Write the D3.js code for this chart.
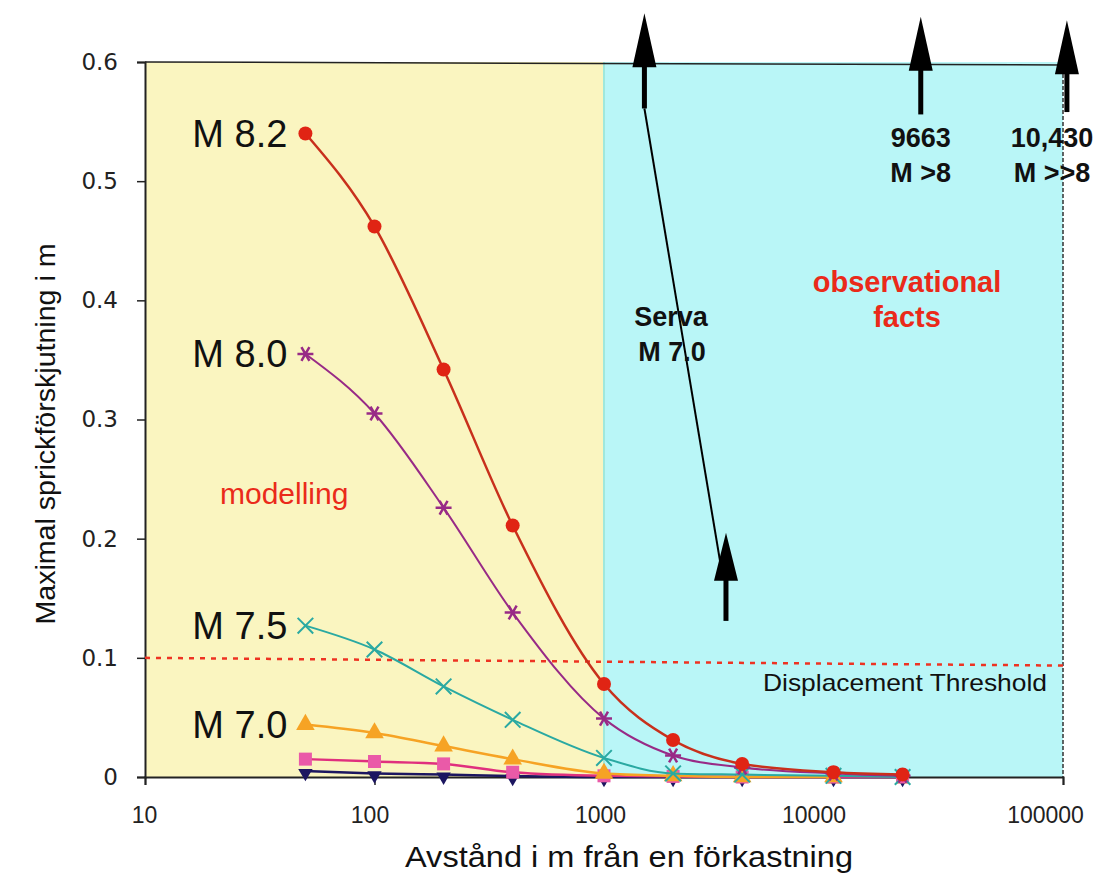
<!DOCTYPE html>
<html>
<head>
<meta charset="utf-8">
<script src="https://cdn.jsdelivr.net/npm/d3@7"></script>
<style>
  body { margin: 0; background: #fff; }
  svg { display: block; }
  text { font-family: "Liberation Sans", Arial, Helvetica, sans-serif; }
</style>
</head>
<body>
<svg width="1100" height="874"></svg>
<script>
// distances in m, displacement in m
let distances = [50, 100, 200, 400, 1000, 2000, 4000, 10000, 20000];

let m82 = [0.54, 0.462, 0.342, 0.211, 0.078, 0.031, 0.011, 0.004, 0.002];
let m80 = [0.355, 0.305, 0.226, 0.138, 0.049, 0.018, 0.008, 0.003, 0.001];
let m75 = [0.127, 0.107, 0.076, 0.048, 0.016, 0.003, 0.002, 0.001, 0];
let m70 = [0.044, 0.037, 0.026, 0.015, 0.003, 0.001, 0, 0, null];
let pinkVals = [0.015, 0.013, 0.011, 0.004, 0.001, 0.0005, 0, 0, 0];
let navyVals = [0.005, 0.003, 0.002, 0.0008, 0, 0, 0, 0, 0];
let yellowVals = [null, null, null, null, null, null, null, 0, 0];

let yTicks = [0, 0.1, 0.2, 0.3, 0.4, 0.5, 0.6];
let xTicks = [10, 100, 1000, 10000, 100000];

let threshold = [0.1, 0.0935];   // at x=10 and x=100000

// annotation arrows: x position, tip value, stem end value
let topArrows = [
  {x: 1500, tip: 0.641, end: 0.561},
  {x: 24000, tip: 0.638, end: 0.556},
  {x: 104000, tip: 0.635, end: 0.558}
];
let servaArrow = {x: 3400, tip: 0.205, end: 0.131};

/***************************/

let svg = d3.select("svg");

let x = d3.scaleLog().domain([10, 100000]).range([145, 1063]);
let y = d3.scaleLinear().domain([0, 0.6]).range([777, 62]);

// background regions
svg.append("rect")
  .attr("x", x(10)).attr("y", y(0.6))
  .attr("width", x(1000) - x(10)).attr("height", y(0) - y(0.6))
  .attr("fill", "#faf5c0");
svg.append("rect")
  .attr("x", x(1000)).attr("y", y(0.6))
  .attr("width", x(100000) - x(1000)).attr("height", y(0) - y(0.6))
  .attr("fill", "#b9f6f7");
svg.append("line")
  .attr("x1", x(1000)).attr("x2", x(1000))
  .attr("y1", y(0.6)).attr("y2", y(0))
  .attr("stroke", "#9fe8dc").attr("stroke-width", 2);

// borders
svg.append("line")
  .attr("x1", x(10)).attr("x2", x(100000))
  .attr("y1", y(0.6)).attr("y2", y(0.6) + 3)
  .attr("stroke", "#222").attr("stroke-width", 1.5);
svg.append("line")
  .attr("x1", x(100000)).attr("x2", x(100000))
  .attr("y1", y(0.6)).attr("y2", y(0))
  .attr("stroke", "#333").attr("stroke-width", 1.5)
  .attr("stroke-dasharray", "4,2");

// axes
let yAxis = d3.axisLeft(y).tickValues(yTicks).tickSize(8).tickPadding(19)
  .tickFormat(d => d === 0 ? "0" : d3.format(".1f")(d));
let gy = svg.append("g").attr("transform", `translate(${x(10)},0)`).call(yAxis);
gy.selectAll("text")
  .style("font-family", "'DejaVu Sans', sans-serif")
  .style("font-size", "23px").attr("fill", "#222");

// labels in the source sit a little left of the ticks at the right end
let xLabelShift = {10: -1, 100: -5, 1000: -4, 10000: -20, 100000: -18};
let xAxis = d3.axisBottom(x).tickValues(xTicks).tickSize(8).tickPadding(22)
  .tickFormat(d3.format("d"));
let gx = svg.append("g").attr("transform", `translate(0,${y(0)})`).call(xAxis);
gx.selectAll("text")
  .style("font-size", "23px").attr("fill", "#222")
  .attr("dx", d => xLabelShift[d]);

svg.selectAll(".domain").attr("stroke", "#222").attr("stroke-width", 2);
svg.selectAll(".tick line").attr("stroke", "#222").attr("stroke-width", 1.5);

// threshold line
svg.append("line")
  .attr("x1", x(10)).attr("x2", x(100000))
  .attr("y1", y(threshold[0])).attr("y2", y(threshold[1]))
  .attr("stroke", "#ee3322").attr("stroke-width", 2.5)
  .attr("stroke-dasharray", "5,6");

svg.append("text")
  .attr("x", 1047).attr("y", 691)
  .attr("text-anchor", "end")
  .style("font-size", "24px")
  .attr("fill", "#111")
  .attr("textLength", 284)
  .attr("lengthAdjust", "spacingAndGlyphs")
  .text("Displacement  Threshold");

// series
let line = d3.line()
  .defined(d => d.v !== null)
  .x(d => x(d.d))
  .y(d => y(d.v))
  .curve(d3.curveMonotoneX);

let series = [
  {name: "yellow", vals: yellowVals, color: "#f2ea10", stroke: "#f2ea10", sym: "square", w: 2},
  {name: "navy", vals: navyVals, color: "#1c1660", stroke: "#1c1660", sym: "down", w: 2.5},
  {name: "pink", vals: pinkVals, color: "#ea5aa8", stroke: "#e0307e", sym: "square", w: 2.5},
  {name: "M 7.0", vals: m70, color: "#f6a324", stroke: "#f6a324", sym: "triangle", w: 2.5},
  {name: "M 7.5", vals: m75, color: "#2aa9a2", stroke: "#2aa9a2", sym: "times", w: 2},
  {name: "M 8.0", vals: m80, color: "#982a86", stroke: "#982a86", sym: "asterisk", w: 2},
  {name: "M 8.2", vals: m82, color: "#e02414", stroke: "#c8301c", sym: "circle", w: 2.5}
];

series.forEach(s => {
  let pts = distances.map((d, i) => ({d: d, v: s.vals[i]}));
  svg.append("path")
    .datum(pts)
    .attr("fill", "none")
    .attr("stroke", s.stroke)
    .attr("stroke-width", s.w)
    .attr("d", line);

  let g = svg.append("g");
  pts.filter(p => p.v !== null).forEach(p => {
    let px = x(p.d), py = y(p.v);
    if (s.sym === "circle") {
      g.append("circle").attr("cx", px).attr("cy", py).attr("r", 7).attr("fill", s.color);
    } else if (s.sym === "triangle") {
      g.append("path").attr("d", d3.symbol(d3.symbolTriangle, 150)())
        .attr("transform", `translate(${px},${py})`).attr("fill", s.color);
    } else if (s.sym === "down") {
      g.append("path").attr("d", d3.symbol(d3.symbolTriangle, 90)())
        .attr("transform", `translate(${px},${py + 2}) rotate(180)`).attr("fill", s.color);
    } else if (s.sym === "square") {
      g.append("rect").attr("x", px - 6.5).attr("y", py - 6.5).attr("width", 13).attr("height", 13)
        .attr("fill", s.color);
    } else if (s.sym === "times") {
      g.append("path").attr("d", d3.symbol(d3.symbolTimes, 160)())
        .attr("transform", `translate(${px},${py})`)
        .attr("fill", "none").attr("stroke", s.color).attr("stroke-width", 2);
    } else if (s.sym === "asterisk") {
      g.append("path").attr("d", d3.symbol(d3.symbolAsterisk, 180)())
        .attr("transform", `translate(${px},${py}) rotate(90)`)
        .attr("fill", "none").attr("stroke", s.color).attr("stroke-width", 2.5);
    }
  });

  if (s.name.startsWith("M")) {
    svg.append("text")
      .attr("x", x(distances[0]) - 18)
      .attr("y", y(s.vals[0]) + 13)
      .attr("text-anchor", "end")
      .style("font-size", "38px")
      .attr("fill", "#111")
      .text(s.name);
  }
});

// arrows
function arrow(ax, tipV, endV, headLen, half, stemW) {
  let px = x(ax), tip = y(tipV), end = y(endV);
  svg.append("line")
    .attr("x1", px).attr("x2", px)
    .attr("y1", tip + headLen - 2).attr("y2", end)
    .attr("stroke", "#000").attr("stroke-width", stemW);
  svg.append("path")
    .attr("d", `M${px},${tip} L${px + half},${tip + headLen} L${px - half},${tip + headLen} Z`)
    .attr("fill", "#000");
}

topArrows.forEach(a => arrow(a.x, a.tip, a.end, 54, 12, 5));

// thin line from Serva arrow down to the lower arrow
svg.append("line")
  .attr("x1", x(topArrows[0].x)).attr("y1", y(topArrows[0].end))
  .attr("x2", x(servaArrow.x) - 3).attr("y2", y(servaArrow.tip) + 46)
  .attr("stroke", "#000").attr("stroke-width", 2);
arrow(servaArrow.x, servaArrow.tip, servaArrow.end, 48, 12, 5);

// text annotations
function label(tx, ty, txt, size, color, bold, anchor) {
  svg.append("text")
    .attr("x", tx).attr("y", ty)
    .attr("text-anchor", anchor || "middle")
    .style("font-size", size + "px")
    .style("font-weight", bold ? "bold" : "normal")
    .attr("fill", color)
    .text(txt);
}

label(x(topArrows[1].x), 147, "9663", 27, "#111", true);
label(x(topArrows[1].x), 182, "M >8", 27, "#111", true);
label(1052, 147, "10,430", 27, "#111", true);
label(1052, 182, "M >>8", 27, "#111", true);

label(671, 326, "Serva", 27, "#111", true);
label(672, 361, "M 7.0", 27, "#111", true);

label(907, 292, "observational", 29, "#ea2a1a", true);
label(907, 327, "facts", 29, "#ea2a1a", true);

label(220, 504, "modelling", 30, "#ea2a1a", false, "start");

// axis titles
svg.append("text")
  .attr("transform", "translate(55,434) rotate(-90)")
  .attr("text-anchor", "middle")
  .style("font-size", "28px")
  .attr("fill", "#111")
  .attr("textLength", 381)
  .attr("lengthAdjust", "spacingAndGlyphs")
  .text("Maximal sprickförskjutning i m");

svg.append("text")
  .attr("x", 629).attr("y", 867)
  .attr("text-anchor", "middle")
  .style("font-size", "29px")
  .attr("fill", "#111")
  .attr("textLength", 448)
  .attr("lengthAdjust", "spacingAndGlyphs")
  .text("Avstånd i m från en förkastning");
</script>
</body>
</html>
